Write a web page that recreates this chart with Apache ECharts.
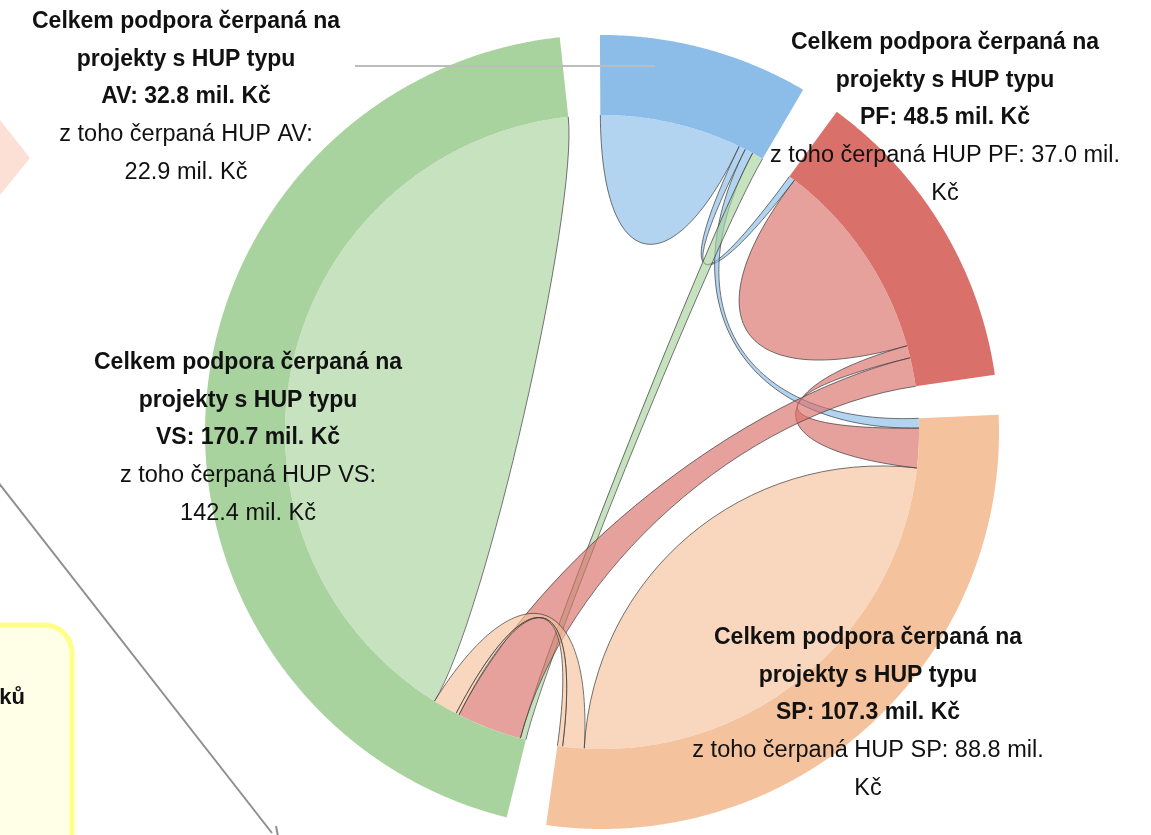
<!DOCTYPE html>
<html><head><meta charset="utf-8">
<script src="https://cdn.jsdelivr.net/npm/echarts@6/dist/echarts.min.js"></script>
<style>html,body{margin:0;padding:0;background:#fff}#c{width:1151px;height:835px}</style>
</head><body><div id="c"></div>
<script>
// ---- Nodes (HUP types) ----
const nodeNames  = ['AV', 'PF', 'SP', 'VS'];
const nodeColors = ['#8bbde8', '#d9706a', '#f4c39d', '#a9d39e'];
// Label values (mil. Kč)
const totals  = [32.8, 48.5, 107.3, 170.7];
const hupSelf = [22.9, 37.0, 88.8, 142.4];
// Label: "z toho" value on the same line as the text (true) or on the next line
const numberOnSameLine = [false, true, true, false];

// ---- Ribbons (widths, mil. Kč) ----
const linkSource      = ['AV', 'AV', 'AV', 'VS', 'PF', 'PF', 'PF', 'SP', 'SP', 'SP', 'VS'];
const linkTarget      = ['AV', 'PF', 'SP', 'AV', 'PF', 'SP', 'VS', 'SP', 'VS', 'VS', 'VS'];
const linkSourceWidth = [27.7, 1.3, 1.6, 1.1, 39.3, 2.4, 5.6, 92.5, 4.2, 1.0, 151.5];
const linkTargetWidth = [27.7, 1.2, 1.9, 2.2, 39.3, 7.7, 12.7, 92.5, 4.8, 0.6, 151.5];
// order of ribbon ends along each node (clockwise), by link index
const nodeOrder = {
  AV: [0, 1, 2, 3],
  PF: [1, 4, 5, 6],
  SP: [2, 5, 7, 8, 9],
  VS: [3, 6, 9, 8, 10]
};
// style: how far the ribbon curves are pulled towards the centre
const ribbonBend = [0.5, 0.5, 0.55, 0.3, 0.55, 0.5, 0.55, 0.55, 0.5, 0.5, 0.3];

// ---- layout (angle axis in mil. Kč) ----
const GAP = 6.2, R_IN = 317, R_OUT = 397;
const nodeStart = [];
let accu = 0;
totals.forEach(function (v) { nodeStart.push(accu); accu += v + GAP; });
const ANGLE_MAX = accu;

const ends = linkSource.map(function () { return {s: null, t: null}; });
nodeNames.forEach(function (n, ni) {
  let a = nodeStart[ni];
  nodeOrder[n].forEach(function (li) {
    const isS = linkSource[li] === n, isT = linkTarget[li] === n;
    if (isS && isT) { ends[li].s = [a, a + linkSourceWidth[li]]; ends[li].t = ends[li].s; a += linkSourceWidth[li]; }
    else if (isS) { ends[li].s = [a, a + linkSourceWidth[li]]; a += linkSourceWidth[li]; }
    else { ends[li].t = [a, a + linkTargetWidth[li]]; a += linkTargetWidth[li]; }
  });
});
// draw self ribbons first, then the cross ribbons
const drawOrder = [0, 4, 7, 10, 1, 2, 3, 5, 6, 8, 9];
const ribbonData = drawOrder.map(function (li) {
  return [R_IN, ends[li].s[0], ends[li].s[1], ends[li].t[0], ends[li].t[1], li];
});
const bandData = nodeNames.map(function (n, i) {
  return [R_OUT, nodeStart[i], nodeStart[i] + totals[i], i];
});

function arcPoints(api, r, a0, a1) {
  const n = Math.max(2, Math.ceil(Math.abs(a1 - a0) / 0.25));
  const pts = [];
  for (let j = 0; j <= n; j++) pts.push(api.coord([r, a0 + (a1 - a0) * j / n]));
  return pts;
}
function pt(p) { return p[0].toFixed(2) + ',' + p[1].toFixed(2); }
function renderBand(params, api) {
  const a0 = api.value(1), a1 = api.value(2), ni = api.value(3);
  const pts = arcPoints(api, R_OUT, a0, a1).concat(arcPoints(api, R_IN, a1, a0));
  return {type: 'polygon', shape: {points: pts}, style: {fill: nodeColors[ni]}};
}
function renderRibbon(params, api) {
  const sA = api.value(1), sB = api.value(2), tA = api.value(3), tB = api.value(4), li = api.value(5);
  const k = ribbonBend[li];
  // centre of the circle = midpoint of two opposite points on it
  const o1 = api.coord([R_IN, 0]), o2 = api.coord([R_IN, ANGLE_MAX / 2]);
  const C = [(o1[0] + o2[0]) / 2, (o1[1] + o2[1]) / 2];
  const ctrl = function (p) { return [p[0] + k * (C[0] - p[0]), p[1] + k * (C[1] - p[1])]; };
  const curve = function (p0, p1) { return ' C' + pt(ctrl(p0)) + ' ' + pt(ctrl(p1)) + ' ' + pt(p1); };
  const arcL = function (a0, a1) { return arcPoints(api, R_IN, a0, a1).slice(1).map(function (p) { return ' L' + pt(p); }).join(''); };
  const s1 = api.coord([R_IN, sA]), s2 = api.coord([R_IN, sB]);
  const isSelf = linkSource[li] === linkTarget[li];
  let d, sd;
  if (isSelf) {
    d = 'M' + pt(s1) + arcL(sA, sB) + curve(s2, s1) + ' Z';
    sd = 'M' + pt(s2) + curve(s2, s1);
  } else {
    const t1 = api.coord([R_IN, tA]), t2 = api.coord([R_IN, tB]);
    d = 'M' + pt(s1) + arcL(sA, sB) + curve(s2, t1) + arcL(tA, tB) + curve(t2, s1) + ' Z';
    sd = 'M' + pt(s2) + curve(s2, t1) + ' M' + pt(t2) + curve(t2, s1);
  }
  const color = nodeColors[nodeNames.indexOf(linkSource[li])];
  return {
    type: 'group',
    children: [
      {type: 'path', shape: {pathData: d}, style: {fill: color, opacity: 0.66}},
      {type: 'path', shape: {pathData: sd}, style: {fill: null, stroke: '#3a3a3a', lineWidth: 1, opacity: 0.7}}
    ]
  };
}

// ---- labels ----
const FONT = '"Liberation Sans", Arial, sans-serif';
function labelText(i) {
  const n = nodeNames[i];
  const lines = [
    '{b|Celkem podpora čerpaná na}',
    '{b|projekty s HUP typu}',
    '{b|' + n + ': ' + totals[i].toFixed(1) + ' mil. Kč}'
  ];
  if (numberOnSameLine[i]) {
    lines.push('{n|z toho čerpaná HUP ' + n + ': ' + hupSelf[i].toFixed(1) + ' mil.}');
    lines.push('{n|Kč}');
  } else {
    lines.push('{n|z toho čerpaná HUP ' + n + ':}');
    lines.push('{n|' + hupSelf[i].toFixed(1) + ' mil. Kč}');
  }
  return lines.join('\n');
}
const rich = {
  b: {fontFamily: FONT, fontWeight: 'bold', fontSize: 23, lineHeight: 37.6, fill: '#111'},
  n: {fontFamily: FONT, fontWeight: 'normal', fontSize: 23.5, lineHeight: 37.6, fill: '#111'}
};
const labelPos = {AV: [186, 3], PF: [945, 24], VS: [248, 344], SP: [868, 619]};

const graphics = [
  {type: 'polygon', shape: {points: [[0, 120], [30, 158], [0, 195]]}, style: {fill: '#fde0d5'}, z: 1},
  {type: 'rect', shape: {x: -40, y: 625, width: 112, height: 260, r: 28}, style: {fill: '#ffffe8', stroke: '#ffff88', lineWidth: 5}, z: 1},
  {type: 'text', style: {x: 12, y: 698, text: 'ků', font: 'bold 22px ' + FONT, fill: '#111', align: 'center', verticalAlign: 'middle'}, z: 2},
  {type: 'line', shape: {x1: -2, y1: 482, x2: 272, y2: 833}, style: {stroke: '#8f8f8f', lineWidth: 2}, z: 1},
  {type: 'line', shape: {x1: 276, y1: 826, x2: 278, y2: 836}, style: {stroke: '#8f8f8f', lineWidth: 2}, z: 1},
  {type: 'line', shape: {x1: 355, y1: 66, x2: 655, y2: 66}, style: {stroke: '#bdbdbd', lineWidth: 2}, z: 100}
];
nodeNames.forEach(function (n, i) {
  graphics.push({
    type: 'text', z: 101,
    style: {x: labelPos[n][0], y: labelPos[n][1], text: labelText(i), rich: rich, align: 'center', verticalAlign: 'top'}
  });
});

const chart = echarts.init(document.getElementById('c'), null, {renderer: 'canvas'});
chart.setOption({
  animation: false,
  backgroundColor: '#ffffff',
  graphic: graphics,
  polar: {center: [602, 432], radius: R_OUT},
  angleAxis: {type: 'value', min: 0, max: ANGLE_MAX, startAngle: 90.3, clockwise: true, show: false},
  radiusAxis: {type: 'value', min: 0, max: R_OUT, show: false},
  series: [
    {
      type: 'custom', coordinateSystem: 'polar', silent: true,
      encode: {radius: 0, angle: 1},
      renderItem: renderRibbon, data: ribbonData, z: 2
    },
    {
      type: 'custom', coordinateSystem: 'polar', silent: true,
      encode: {radius: 0, angle: 1},
      renderItem: renderBand, data: bandData, z: 3
    }
  ]
});
</script></body></html>
